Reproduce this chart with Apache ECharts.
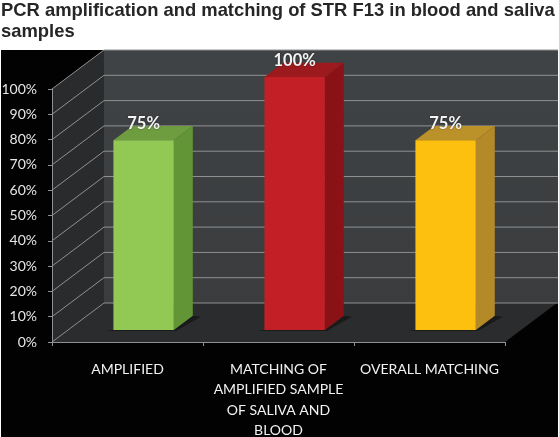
<!DOCTYPE html>
<html>
<head>
<meta charset="utf-8">
<title>PCR amplification</title>
<style>
  html, body { margin: 0; padding: 0; background: #fff; }
  #chart { width: 559px; height: 437px; }
</style>
<script src="https://cdn.jsdelivr.net/npm/echarts@6/dist/echarts.min.js"></script>
</head>
<body>
<div id="chart"></div>
<script>
const titleText = 'PCR amplification and matching of STR F13 in blood and saliva\nsamples';
const categories = ['AMPLIFIED', 'MATCHING OF\nAMPLIFIED SAMPLE\nOF SALIVA AND\nBLOOD', 'OVERALL MATCHING'];
const values = [75, 100, 75];
const yTicks = [0, 10, 20, 30, 40, 50, 60, 70, 80, 90, 100];

// 柱子配色：正面 / 侧面 / 顶面
const barColors = [
  ['#92c955', '#629536', '#6e9d40'],
  ['#c21f27', '#8a1216', '#9c191d'],
  ['#fdc00f', '#b48a29', '#bb9129'],
];

// 伪 3D 进深
const DEPTH_X = 52;
const DEPTH_Y = -39;
const BAR_NEAR = 0.31;
const BAR_FAR = 0.675;
const BAR_RATIO = 0.4;

const LINE = '#8f9191';

function shift(pt, depth) {
  return [pt[0] + DEPTH_X * depth, pt[1] + DEPTH_Y * depth];
}

// 背景：黑底、左墙、后墙、地面
function renderWalls(params, api) {
  const o = api.coord([0, 0]);
  const band = api.size([1, 0])[0];
  const x0 = o[0] - band / 2;
  const x1 = x0 + band * categories.length;
  const y0 = o[1];
  const y1 = api.coord([0, 100])[1];
  const w = api.getWidth();
  const poly = (points, fill) => ({ type: 'polygon', shape: { points }, style: { fill } });
  const backBottom = shift([x0, y0], 1);
  const backTop = shift([x0, y1], 1);
  return {
    type: 'group',
    children: [
      { type: 'rect', shape: { x: 1, y: backTop[1], width: w - 2, height: api.getHeight() - backTop[1] }, style: { fill: '#020203' } },
      poly([[x0, y1], backTop, backBottom, [x0, y0]], '#2a2b2c'),
      { type: 'rect', shape: { x: backTop[0], y: backTop[1], width: w - 1 - backTop[0], height: backBottom[1] - backTop[1] },
        style: { fill: { type: 'linear', x: 0, y: 0, x2: 0, y2: 1, colorStops: [{ offset: 0, color: '#404345' }, { offset: 1, color: '#3a3c3e' }] } } },
      poly([[x0, y0], [x1, y0], shift([x1, y0], 1), backBottom], '#2b2c2d'),
    ],
  };
}

// 网格线：后墙横线 + 左墙斜线
function renderGridLine(params, api) {
  const p = api.coord([0, api.value(0)]);
  const band = api.size([1, 0])[0];
  const front = [p[0] - band / 2, p[1]];
  const back = shift(front, 1);
  const style = { stroke: LINE, lineWidth: 1 };
  const children = [
    { type: 'line', shape: { x1: front[0], y1: front[1], x2: back[0], y2: back[1] }, style },
  ];
  children.push({ type: 'line', shape: { x1: back[0], y1: back[1], x2: api.getWidth() - 1, y2: back[1] }, style });
  return { type: 'group', children };
}

function renderBar(params, api) {
  const idx = api.value(0);
  const val = api.value(1);
  const base = api.coord([idx, 0]);
  const top = api.coord([idx, val]);
  const bw = api.size([1, 0])[0] * BAR_RATIO;
  const colors = barColors[idx];

  const fl = shift([base[0] - bw / 2, base[1]], BAR_NEAR);
  const fr = shift([base[0] + bw / 2, base[1]], BAR_NEAR);
  const tl = shift([top[0] - bw / 2, top[1]], BAR_NEAR);
  const tr = shift([top[0] + bw / 2, top[1]], BAR_NEAR);
  const d = BAR_FAR - BAR_NEAR;
  const poly = (points, fill) => ({ type: 'polygon', shape: { points }, style: { fill } });
  return {
    type: 'group',
    children: [
      // 阴影
      poly([[fl[0] - 8, fl[1] + 1], [fr[0] + 2, fr[1] + 1], shift([fr[0] + 8, fr[1] + 1], d), shift(fr, d), fr, fl], '#1a1a1a'),
      poly([fr, tr, shift(tr, d), shift(fr, d)], colors[1]),
      poly([tl, tr, shift(tr, d), shift(tl, d)], colors[2]),
      { type: 'rect', shape: { x: tl[0], y: tl[1], width: bw, height: fl[1] - tl[1] }, style: { fill: colors[0] } },
      {
        type: 'text',
        x: (tl[0] + tr[0]) / 2,
        y: tl[1] - 16,
        style: {
          text: val + '%', fill: '#f4f4f4', fontFamily: 'Lato', fontSize: 16.5, fontWeight: 'bold',
          align: 'center', verticalAlign: 'middle',
          textShadowColor: 'rgba(0,0,0,0.5)', textShadowBlur: 2,
        },
      },
    ],
  };
}

const chart = echarts.init(document.getElementById('chart'), null, { renderer: 'canvas' });
chart.setOption({
  animation: false,
  backgroundColor: '#fff',
  title: {
    text: titleText,
    left: 1,
    top: 0,
    padding: 0,
    textStyle: { fontFamily: 'Liberation Sans', fontSize: 18.4, fontWeight: 'bold', color: '#262626', lineHeight: 21 },
  },
  grid: { left: 52, top: 89, width: 453, height: 253, outerBoundsMode: 'none' },
  xAxis: {
    type: 'category',
    data: categories,
    z: 5,
    axisLine: { lineStyle: { color: LINE, width: 1 } },
    axisTick: { show: true, alignWithLabel: false, length: 4, lineStyle: { color: LINE } },
    axisLabel: { interval: 0, color: '#f2f2f2', fontFamily: 'Lato', fontSize: 14, lineHeight: 20.5, margin: 17 },
  },
  yAxis: {
    type: 'value',
    min: 0,
    max: 100,
    interval: 10,
    z: 5,
    splitLine: { show: false },
    axisLine: { show: true, lineStyle: { color: LINE, width: 1 } },
    axisTick: { show: true, length: 4, lineStyle: { color: LINE } },
    axisLabel: { formatter: '{value}%', color: '#e6e6e6', fontFamily: 'Lato', fontSize: 14, margin: 15 },
  },
  series: [
    { type: 'custom', silent: true, z: 1, coordinateSystem: 'cartesian2d', data: [[0, 0]], encode: { x: 0, y: 1 }, renderItem: renderWalls },
    { type: 'custom', silent: true, z: 2, coordinateSystem: 'cartesian2d', data: yTicks.map(v => [v]), encode: { y: 0 }, renderItem: renderGridLine },
    { type: 'custom', silent: true, z: 3, coordinateSystem: 'cartesian2d', data: values.map((v, i) => [i, v]), encode: { x: 0, y: 1 }, renderItem: renderBar },
  ],
});
</script>
</body>
</html>
